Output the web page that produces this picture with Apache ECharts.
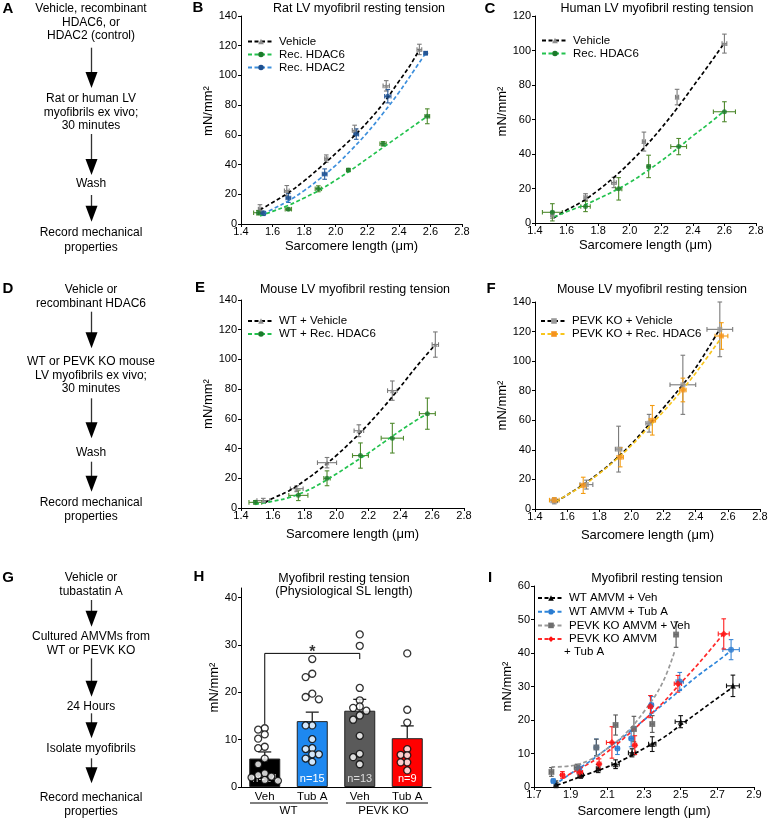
<!DOCTYPE html>
<html><head><meta charset="utf-8">
<script src="https://cdn.jsdelivr.net/npm/echarts@6/dist/echarts.min.js"></script>
<style>html,body{margin:0;padding:0;background:#fff}#c{width:768px;height:823px}</style>
</head><body><div id="c"></div>
<script>
// ================= DATA =================
// tick labels
const slTicks = [1.4, 1.6, 1.8, 2.0, 2.2, 2.4, 2.6, 2.8];
const slTicksI = [1.7, 1.9, 2.1, 2.3, 2.5, 2.7, 2.9];
const yTicks140 = [0, 20, 40, 60, 80, 100, 120, 140];
const yTicks120 = [0, 20, 40, 60, 80, 100, 120];
const yTicksH = [0, 10, 20, 30, 40];
const yTicksI = [0, 10, 20, 30, 40, 50, 60];

// points: [SL, tension, SL error, tension error]
const ratVehicle = [[1.52,10,0.01,3],[1.69,22.4,0.015,3.5],[1.94,44,0.01,2.5],[2.12,63,0.015,3.5],[2.32,93,0.02,3.5],[2.53,117.5,0.015,3.5]];
const ratHDAC6 = [[1.51,7.6,0.03,1.5],[1.70,10,0.02,0.8],[1.89,23.7,0.02,2],[2.08,36.3,0.01,1],[2.30,54,0.02,1.5],[2.58,72.5,0.015,5]];
const ratHDAC2 = [[1.54,7.2,0.015,1.5],[1.70,17.5,0.015,3],[1.93,33.6,0.015,3.5],[2.13,60.5,0.015,3.5],[2.33,86,0.02,4.5],[2.57,115,0.01,1]];
// fitted curves: [SL, tension]
const ratVehicleFit = [[1.52,9.5],[1.6,14.5],[1.7,21],[1.8,29],[1.9,38],[2.0,47.5],[2.1,57.5],[2.2,68.5],[2.3,81],[2.4,96],[2.47,106.5],[2.53,117.5]];
const ratHDAC6Fit = [[1.52,5.5],[1.6,8.5],[1.7,12.5],[1.8,17.5],[1.9,23],[2.0,29.5],[2.1,36.5],[2.2,44],[2.3,51.5],[2.4,59],[2.5,66.5],[2.58,72.5]];
const ratHDAC2Fit = [[1.54,6.7],[1.6,10],[1.7,15.5],[1.8,22.5],[1.9,30.5],[2.0,39.5],[2.1,50],[2.2,61.5],[2.3,74.5],[2.4,88.5],[2.5,104],[2.57,115]];

const humanVehicle = [[1.51,4.8,0.01,2],[1.72,15,0.01,2],[1.90,23.5,0.015,3],[2.09,47.2,0.01,5.5],[2.30,73,0.01,4.5],[2.60,104,0.015,5.5]];
const humanHDAC6 = [[1.51,6.2,0.063,5],[1.72,9.6,0.03,3],[1.93,19.8,0.02,6.5],[2.12,32.8,0.01,6.5],[2.31,44.3,0.05,4.7],[2.60,64.5,0.07,5.8]];
const humanVehicleFit = [[1.52,3],[1.6,7.5],[1.7,12.5],[1.8,19],[1.9,26.5],[2.0,35],[2.1,44.5],[2.2,55],[2.3,66.5],[2.4,79],[2.5,91.5],[2.6,104.5]];
const humanHDAC6Fit = [[1.52,3.5],[1.6,6.5],[1.7,10],[1.8,14],[1.9,18.5],[2.0,23.5],[2.1,29.5],[2.2,36],[2.3,43],[2.4,50.5],[2.5,57.5],[2.6,65]];

const mouseWTVehicle = [[1.54,5,0.04,1.5],[1.75,13,0.04,2],[1.94,30.5,0.06,3.5],[2.14,52,0.03,4],[2.35,79,0.03,6.5],[2.62,110,0.02,8.5]];
const mouseWTHDAC6 = [[1.49,3.8,0.04,1.2],[1.76,8.5,0.06,3.5],[1.94,20,0.02,5],[2.15,35.3,0.05,8.5],[2.35,47,0.07,10],[2.57,63.5,0.05,10.5]];
const mouseWTVehicleFit = [[1.55,3.4],[1.6,6.5],[1.7,11.5],[1.8,18.5],[1.9,26.5],[2.0,35.5],[2.1,45.5],[2.2,56.5],[2.3,68.5],[2.4,81.5],[2.5,95],[2.62,110]];
const mouseWTHDAC6Fit = [[1.49,2.5],[1.6,4.5],[1.7,7],[1.8,11],[1.9,16.5],[2.0,23],[2.1,30],[2.2,37],[2.3,44.5],[2.4,52],[2.5,59],[2.57,63.5]];

const mouseKOVehicle = [[1.52,5.5,0.02,2],[1.72,16.5,0.04,3],[1.92,40.5,0.02,15.5],[2.11,58,0.02,6],[2.32,84,0.08,20],[2.55,121.5,0.08,18.5]];
const mouseKOHDAC6 = [[1.52,6,0.03,1.5],[1.70,16,0.02,5.5],[1.93,35,0.02,6.5],[2.13,60,0.02,10],[2.32,80.5,0.02,8],[2.56,117,0.04,9]];
const mouseKOVehicleFit = [[1.53,5],[1.6,9.5],[1.7,16.5],[1.8,24.5],[1.9,33.5],[2.0,44],[2.1,56],[2.2,68.5],[2.3,81.5],[2.4,95.5],[2.54,120]];
const mouseKOHDAC6Fit = [[1.53,5],[1.6,9.5],[1.7,16],[1.8,24],[1.9,33],[2.0,43],[2.1,54.5],[2.2,66],[2.3,78.5],[2.4,92],[2.56,116]];

// Panel H
const hTreatments = ['Veh', 'Tub A', 'Veh', 'Tub A'];
const hGenotypes = ['WT', 'WT', 'PEVK KO', 'PEVK KO'];
const hGroups = ['WT', 'PEVK KO'];
const hMeans = [6.0, 13.9, 16.1, 10.3];
const hSEM = [1.4, 1.9, 2.4, 2.6];
const hN = [14, 15, 13, 9];
const dotsWTVeh = [12.4, 12.1, 11.1, 10.2, 8.5, 8.2, 6.0, 4.8, 2.9, 2.5, 2.2, 2.0, 1.5, 1.3];
const dotsWTTubA = [27.0, 23.9, 23.2, 19.7, 19.0, 18.5, 13.0, 13.0, 10.1, 8.2, 8.0, 6.9, 6.9, 6.0, 5.3];
const dotsKOVeh = [32.2, 29.8, 20.9, 18.3, 17.0, 16.7, 16.1, 15.1, 14.2, 10.8, 7.0, 6.3, 4.8];
const dotsKOTubA = [28.2, 16.3, 13.6, 8.0, 6.8, 6.7, 5.2, 5.2, 3.5];
const hBracket = [[0, 13.3], [0, 28.2], [2, 28.2], [2, 27.0]];
const hStar = [[1, 29.2]];

// Panel I
const amvmWTVeh = [[1.82,0.8,0.01,1],[1.955,3.6,0.015,1],[2.05,5.5,0.01,1.2],[2.145,6.8,0.02,1.3],[2.235,10.2,0.02,1.2],[2.345,12.8,0.02,2.2],[2.50,19.5,0.03,1.8],[2.785,30.2,0.035,3.2]];
const amvmWTTubA = [[1.805,1.8,0.01,0.6],[1.945,5.5,0.015,1.2],[2.04,11.8,0.01,2.5],[2.155,11.5,0.01,1.8],[2.23,14.5,0.01,2.5],[2.34,24.5,0.01,2.5],[2.495,31.5,0.02,2.7],[2.775,41,0.045,3]];
const amvmKOVeh = [[1.795,4.5,0.01,1.3],[1.935,5.8,0.015,1],[2.04,11.8,0.01,2.5],[2.145,18.5,0.01,3],[2.245,17.3,0.01,3.8],[2.345,18.8,0.01,2.5],[2.475,45.5,0.01,3.8]];
const amvmKOTubA = [[1.855,3.6,0.01,1],[1.95,4.4,0.015,1.5],[2.055,6.9,0.01,1.5],[2.125,13.3,0.03,4.7],[2.25,12.5,0.01,2.8],[2.335,24,0.01,3.3],[2.485,30.8,0.02,2.5],[2.735,45.7,0.03,4.5]];
const amvmWTVehFit = [[1.825,0.5],[1.9,2],[2.0,4],[2.1,6],[2.2,8.5],[2.3,11.5],[2.4,14.5],[2.5,18.5],[2.6,22.5],[2.7,26.5],[2.79,30]];
const amvmWTTubAFit = [[1.81,0.5],[1.9,4],[2.0,7.5],[2.1,11.5],[2.2,15.5],[2.3,20],[2.4,24.5],[2.5,29],[2.6,33.5],[2.7,37.5],[2.77,40.5]];
const amvmKOVehFit = [[1.795,6],[1.9,6.3],[2.0,8],[2.1,11.5],[2.2,16],[2.3,22.5],[2.4,31],[2.47,41]];
const amvmKOTubAFit = [[1.855,2.5],[1.9,4],[2.0,7],[2.1,10.5],[2.2,15],[2.3,20],[2.4,25],[2.5,31],[2.6,37],[2.73,45.5]];

// Flowchart text
const flowA = [['Vehicle, recombinant','HDAC6, or','HDAC2 (control)'],['Rat or human LV','myofibrils ex vivo;','30 minutes'],['Wash'],['Record mechanical','properties']];
const flowD = [['Vehicle or','recombinant HDAC6'],['WT or PEVK KO mouse','LV myofibrils ex vivo;','30 minutes'],['Wash'],['Record mechanical','properties']];
const flowG = [['Vehicle or','tubastatin A'],['Cultured AMVMs from','WT or PEVK KO'],['24 Hours'],['Isolate myofibrils'],['Record mechanical','properties']];

// ================= LAYOUT =================
const FONT = '"Liberation Sans", Arial, Helvetica, sans-serif';
const G = [
  {left:241, top:16, width:221, height:208},   // B
  {left:535, top:16, width:221, height:207},   // C
  {left:241, top:300, width:223, height:208},  // E
  {left:535, top:302, width:225, height:207},  // F
  {left:241, top:588, width:190, height:199},  // H
  {left:534, top:586, width:220, height:201}   // I
];
const flowLayout = [
  {blocks: flowA, ys: [[8.3,22.7,36],[99,112.3,126],[183.3],[232.7,247.3]], arrows: [[47.7,88],[134,175],[195,221.7]]},
  {blocks: flowD, ys: [[289.3,303.3],[361.7,375.3,389],[452.7],[502.3,516.7]], arrows: [[311.7,348.3],[398.3,438.3],[461.7,491.7]]},
  {blocks: flowG, ys: [[577.7,591.7],[636.7,650.7],[706.7],[749],[797.3,811.7]], arrows: [[600,626.7],[658.3,696.7],[713.3,738.3],[758.3,783.3]]}
];
const FX = 91.5;

// ================= HELPERS =================
function makeErr(color) {
  return function (params, api) {
    const x = api.value(0), y = api.value(1), xe = api.value(2), ye = api.value(3);
    const st = {stroke: color, lineWidth: 1.1};
    const ch = [], cap = 2.3;
    if (ye > 0) {
      const t = api.coord([x, y + ye]), b = api.coord([x, y - ye]);
      ch.push({type:'line', shape:{x1:t[0], y1:t[1], x2:b[0], y2:b[1]}, style:st});
      ch.push({type:'line', shape:{x1:t[0]-cap, y1:t[1], x2:t[0]+cap, y2:t[1]}, style:st});
      ch.push({type:'line', shape:{x1:b[0]-cap, y1:b[1], x2:b[0]+cap, y2:b[1]}, style:st});
    }
    if (xe > 0) {
      const l = api.coord([x - xe, y]), r = api.coord([x + xe, y]);
      ch.push({type:'line', shape:{x1:l[0], y1:l[1], x2:r[0], y2:r[1]}, style:st});
      ch.push({type:'line', shape:{x1:l[0], y1:l[1]-cap, x2:l[0], y2:l[1]+cap}, style:st});
      ch.push({type:'line', shape:{x1:r[0], y1:r[1]-cap, x2:r[0], y2:r[1]+cap}, style:st});
    }
    return {type:'group', children: ch};
  };
}
const series = [];
function addSet(gi, name, pts, fit, st) {
  series.push({type:'line', name, xAxisIndex:gi, yAxisIndex:gi, data:fit, smooth:0.4, showSymbol:false,
    symbol:st.symbol, symbolSize:st.size || 5, lineStyle:{color:st.line, width:1.7, type:[4,2.5]},
    itemStyle:{color:st.marker}, z:3, silent:true});
  series.push({type:'custom', xAxisIndex:gi, yAxisIndex:gi, data:pts, encode:{x:0, y:1},
    renderItem:makeErr(st.err), z:2, silent:true});
  series.push({type:'scatter', xAxisIndex:gi, yAxisIndex:gi, data:pts.map(p => [p[0], p[1]]),
    symbol:st.symbol, symbolSize:st.size || 5, itemStyle:{color:st.marker}, z:4, silent:true});
}
const axisText = {color:'#000', fontFamily:FONT};
function xSL(gi, ticks, min, max, gap) {
  return {type:'value', gridIndex:gi, min, max, name:'Sarcomere length (μm)', nameLocation:'middle', nameGap:gap,
    nameTextStyle:{fontSize:13, ...axisText},
    axisLine:{show:true, lineStyle:{color:'#000', width:1}},
    axisTick:{show:true, length:3, customValues:ticks, lineStyle:{color:'#000'}},
    axisLabel:{customValues:ticks, formatter:v => v.toFixed(1), fontSize:11, margin:2, ...axisText},
    splitLine:{show:false}};
}
function yT(gi, ticks, max, gap, shift) {
  return {type:'value', gridIndex:gi, min:0, max, name:'mN/mm²', nameLocation:'middle', nameGap:gap,
    nameTextStyle:{fontSize:13, ...axisText, padding: shift ? [0, 0, 0, shift] : 0},
    axisLine:{show:true, lineStyle:{color:'#000', width:1}},
    axisTick:{show:true, length:3, customValues:ticks, lineStyle:{color:'#000'}},
    axisLabel:{customValues:ticks, fontSize:11, margin:4, ...axisText},
    splitLine:{show:false}};
}

// ================= SERIES =================
const sty = {
  veh:   {symbol:'triangle', marker:'#8c8c8c', line:'#000', err:'#7a7a7a'},
  hd6:   {symbol:'circle', marker:'#1a7a2a', line:'#23c24e', err:'#4f8a2e'},
  hd2:   {symbol:'circle', marker:'#1d4f8f', line:'#3d8fdc', err:'#2d5f9f'},
  koVeh: {symbol:'rect', marker:'#9a9a9a', line:'#000', err:'#7a7a7a'},
  koHd6: {symbol:'rect', marker:'#f5931e', line:'#f8c51c', err:'#f39c12'},
  iWTV:  {symbol:'triangle', marker:'#000', line:'#000', err:'#111', size:6},
  iWTT:  {symbol:'circle', marker:'#2a7bd0', line:'#2f86da', err:'#3a86d4', size:6},
  iKOV:  {symbol:'rect', marker:'#6e6e6e', line:'#999', err:'#555', size:6},
  iKOT:  {symbol:'diamond', marker:'#ff1010', line:'#ff2a2a', err:'#ff2020', size:7}
};
addSet(0, 'Vehicle', ratVehicle, ratVehicleFit, sty.veh);
addSet(0, 'Rec. HDAC6', ratHDAC6, ratHDAC6Fit, sty.hd6);
addSet(0, 'Rec. HDAC2', ratHDAC2, ratHDAC2Fit, sty.hd2);
addSet(1, 'Vehicle', humanVehicle, humanVehicleFit, sty.veh);
addSet(1, 'Rec. HDAC6', humanHDAC6, humanHDAC6Fit, sty.hd6);
addSet(2, 'WT + Vehicle', mouseWTVehicle, mouseWTVehicleFit, sty.veh);
addSet(2, 'WT + Rec. HDAC6', mouseWTHDAC6, mouseWTHDAC6Fit, sty.hd6);
addSet(3, 'PEVK KO + Vehicle', mouseKOVehicle, mouseKOVehicleFit, sty.koVeh);
addSet(3, 'PEVK KO + Rec. HDAC6', mouseKOHDAC6, mouseKOHDAC6Fit, sty.koHd6);
addSet(5, 'WT AMVM + Veh', amvmWTVeh, amvmWTVehFit, sty.iWTV);
addSet(5, 'WT AMVM + Tub A', amvmWTTubA, amvmWTTubAFit, sty.iWTT);
addSet(5, 'PEVK KO AMVM + Veh', amvmKOVeh, amvmKOVehFit, sty.iKOV);
addSet(5, 'PEVK KO AMVM + Tub A', amvmKOTubA, amvmKOTubAFit, sty.iKOT);

// Panel H
const barColors = ['#000000', '#1e88f0', '#5a5a5a', '#ff0000'];
const nColors = ['#c8c8c8', '#ffffff', '#dddddd', '#ffffff'];
series.push({type:'bar', xAxisIndex:4, yAxisIndex:4, barWidth:31, z:1, silent:true,
  data: hMeans.map((m, i) => ({value:m, itemStyle:{color:barColors[i], borderColor:'#222', borderWidth:1},
    label:{color:nColors[i]}})),
  label:{show:true, position:'insideBottom', distance:3, fontSize:11, fontFamily:FONT,
    formatter: p => 'n=' + hN[p.dataIndex]}});
series.push({type:'custom', xAxisIndex:4, yAxisIndex:4, z:2, silent:true,
  data: hMeans.map((m, i) => [i, m, hSEM[i]]), encode:{x:0, y:1},
  renderItem: function (params, api) {
    const a = api.coord([api.value(0), api.value(1)]), b = api.coord([api.value(0), api.value(1) + api.value(2)]);
    const st = {stroke:'#222', lineWidth:1.3};
    return {type:'group', children:[
      {type:'line', shape:{x1:a[0], y1:a[1], x2:b[0], y2:b[1]}, style:st},
      {type:'line', shape:{x1:b[0]-6.5, y1:b[1], x2:b[0]+6.5, y2:b[1]}, style:st}]};
  }});
function swarm(vals) {
  const ppu = G[4].height / 42, step = 6.6, minD = 5.8, placed = [];
  return vals.map(v => {
    for (const k of [0, -1, 1, -2, 2, -3, 3, -4, 4]) {
      const dx = k * step;
      if (placed.every(p => Math.hypot(p.dx - dx, (p.v - v) * ppu) >= minD)) { placed.push({dx, v}); return dx; }
    }
    return 0;
  });
}
[dotsWTVeh, dotsWTTubA, dotsKOVeh, dotsKOTubA].forEach((vals, gi) => {
  const offs = swarm(vals);
  series.push({type:'scatter', xAxisIndex:4, yAxisIndex:4, z:5, silent:true, symbol:'circle', symbolSize:7,
    itemStyle:{color:'#fff', borderColor:'#000', borderWidth:1.3},
    data: vals.map((v, j) => ({value:[gi, v], symbolOffset:[offs[j], 0]}))});
});
series.push({type:'line', xAxisIndex:4, yAxisIndex:4, data:hBracket, showSymbol:false, symbol:'none',
  lineStyle:{color:'#000', width:1}, z:3, silent:true});
series.push({type:'scatter', xAxisIndex:4, yAxisIndex:4, data:hStar, symbolSize:1, z:6, silent:true,
  itemStyle:{color:'rgba(0,0,0,0)'},
  label:{show:true, position:'inside', formatter:'*', fontSize:16, fontWeight:'bold', color:'#000', offset:[0,4], fontFamily:FONT}});

// ================= GRAPHIC =================
const graphic = [];
const txt = (text, x, y, font, align) => ({type:'text', x, y, silent:true,
  style:{text, fill:'#000', font, align: align || 'center', verticalAlign:'middle'}});
flowLayout.forEach(f => {
  f.blocks.forEach((lines, bi) => lines.forEach((t, li) => graphic.push(txt(t, FX - 0.5, f.ys[bi][li], '12px ' + FONT))));
  f.arrows.forEach(([y1, y2]) => {
    graphic.push({type:'line', silent:true, shape:{x1:FX, y1, x2:FX, y2:y2-14}, style:{stroke:'#333', lineWidth:1.3}});
    graphic.push({type:'polygon', silent:true, shape:{points:[[FX-6, y2-16], [FX+6, y2-16], [FX, y2]]}, style:{fill:'#000'}});
  });
});
[['A',8,9],['B',198,8],['C',490,9],['D',8,289],['E',200,288],['F',491,289],['G',8,578],['H',199,577],['I',490,578]]
  .forEach(([t, x, y]) => graphic.push(txt(t, x, y, 'bold 15px ' + FONT)));
[['Rat LV myofibril resting tension', 359, 8.5], ['Human LV myofibril resting tension', 657, 8.5],
 ['Mouse LV myofibril resting tension', 355, 290], ['Mouse LV myofibril resting tension', 652, 290],
 ['Myofibril resting tension', 344, 578.3], ['(Physiological SL length)', 344, 591.7],
 ['Myofibril resting tension', 657, 578.3]]
  .forEach(([t, x, y]) => graphic.push(txt(t, x, y, '12.5px ' + FONT)));
graphic.push(txt('+ Tub A', 564, 651.7, '11.5px ' + FONT, 'left'));
const band = G[4].width / 4;
graphic.push({type:'line', silent:true, shape:{x1:G[4].left + 9, y1:803, x2:G[4].left + 2*band - 8, y2:803}, style:{stroke:'#000', lineWidth:1}});
graphic.push({type:'line', silent:true, shape:{x1:G[4].left + 2*band + 10, y1:803, x2:G[4].left + 4*band - 3, y2:803}, style:{stroke:'#000', lineWidth:1}});

// ================= OPTION =================
const legBase = {orient:'vertical', itemWidth:26, itemHeight:7, itemGap:1, padding:0, selectedMode:false,
  textStyle:{fontSize:11.5, color:'#000', fontFamily:FONT}};
const option = {
  animation:false,
  backgroundColor:'#fff',
  grid: G.map(g => ({...g, outerBoundsMode:'none', containLabel:false})),
  xAxis: [
    xSL(0, slTicks, 1.4, 2.8, 16), xSL(1, slTicks, 1.4, 2.8, 16),
    xSL(2, slTicks, 1.4, 2.8, 19.5), xSL(3, slTicks, 1.4, 2.8, 19.5),
    {type:'category', gridIndex:4, data: hTreatments.map((t, i) => hGenotypes[i] + ' ' + t),
      axisLine:{show:true, lineStyle:{color:'#000', width:1.2}}, axisTick:{show:false},
      axisLabel:{formatter:(v, i) => hTreatments[i], fontSize:11.5, margin:4, ...axisText}},
    xSL(5, slTicksI, 1.7, 2.9, 18),
    {type:'category', gridIndex:4, position:'bottom', offset:15, data:hGroups,
      axisLine:{show:false}, axisTick:{show:false}, axisLabel:{fontSize:11.5, margin:3, ...axisText}}
  ],
  yAxis: [
    yT(0, yTicks140, 140, 21, 18), yT(1, yTicks120, 120, 21, 16), yT(2, yTicks140, 140, 21),
    yT(3, yTicks140, 140, 21), yT(4, yTicksH, 42, 20), yT(5, yTicksI, 60, 18)
  ],
  legend: [
    {...legBase, data:['Vehicle', 'Rec. HDAC6', 'Rec. HDAC2'], left:247, top:35.5},
    {...legBase, data:['Vehicle', 'Rec. HDAC6'], left:541, top:34.5},
    {...legBase, data:['WT + Vehicle', 'WT + Rec. HDAC6'], left:247, top:315},
    {...legBase, data:['PEVK KO + Vehicle', 'PEVK KO + Rec. HDAC6'], left:540, top:315},
    {...legBase, itemGap:1.7, data:['WT AMVM + Veh', 'WT AMVM + Tub A', 'PEVK KO AMVM + Veh', 'PEVK KO AMVM + Tub A'],
      left:537, top:592, formatter: n => n === 'PEVK KO AMVM + Tub A' ? 'PEVK KO AMVM' : n}
  ],
  graphic,
  series
};
const chart = echarts.init(document.getElementById('c'), null, {renderer:'canvas'});
chart.setOption(option);
</script>
</body></html>
